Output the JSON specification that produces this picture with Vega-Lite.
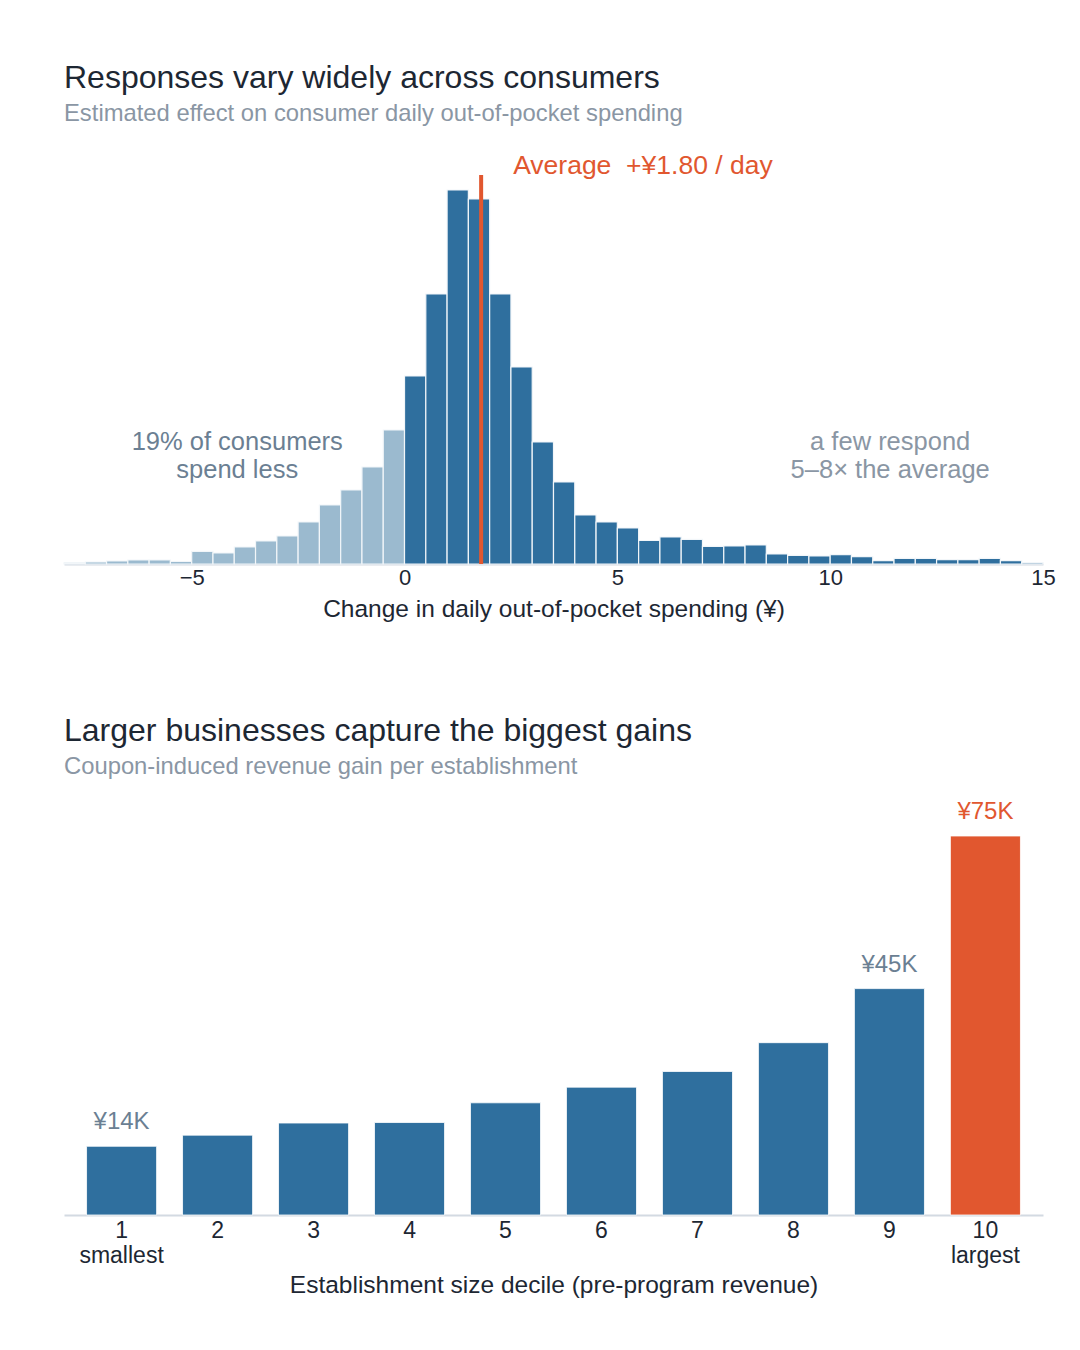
{
  "$schema": "https://vega.github.io/schema/vega-lite/v6.json",
  "background": "#ffffff",
  "padding": {"left": 63, "top": 62, "right": 20, "bottom": 20},
  "spacing": 94,
  "config": {
    "font": "Liberation Sans",
    "view": {"stroke": null},
    "title": {
      "anchor": "start", "frame": "group", "fontSize": 32, "fontWeight": "normal",
      "color": "#1d2733", "subtitleFontSize": 23.8, "subtitleColor": "#8a96a4",
      "subtitlePadding": 7
    },
    "axis": {
      "domainColor": "#d3dae2", "domainWidth": 2, "ticks": false, "tickSize": 0, "grid": false,
      "labelFontSize": 22, "labelColor": "#1d2733", "labelFlush": false,
      "titleFontSize": 24.5, "titleFontWeight": "normal", "titleColor": "#1d2733"
    }
  },
  "vconcat": [
    {
      "width": 979,
      "height": 430,
      "title": {
        "text": "Responses vary widely across consumers",
        "subtitle": "Estimated effect on consumer daily out-of-pocket spending",
        "offset": 7
      },
      "data": {
        "values": [
          {"start": -8, "end": -7.5, "count": 12},
          {"start": -7.5, "end": -7, "count": 20},
          {"start": -7, "end": -6.5, "count": 30},
          {"start": -6.5, "end": -6, "count": 40},
          {"start": -6, "end": -5.5, "count": 40},
          {"start": -5.5, "end": -5, "count": 25},
          {"start": -5, "end": -4.5, "count": 127},
          {"start": -4.5, "end": -4, "count": 110},
          {"start": -4, "end": -3.5, "count": 170},
          {"start": -3.5, "end": -3, "count": 230},
          {"start": -3, "end": -2.5, "count": 280},
          {"start": -2.5, "end": -2, "count": 420},
          {"start": -2, "end": -1.5, "count": 590},
          {"start": -1.5, "end": -1, "count": 740},
          {"start": -1, "end": -0.5, "count": 970},
          {"start": -0.5, "end": 0, "count": 1340},
          {"start": 0, "end": 0.5, "count": 1880},
          {"start": 0.5, "end": 1, "count": 2700},
          {"start": 1, "end": 1.5, "count": 3740},
          {"start": 1.5, "end": 2, "count": 3650},
          {"start": 2, "end": 2.5, "count": 2700},
          {"start": 2.5, "end": 3, "count": 1970},
          {"start": 3, "end": 3.5, "count": 1220},
          {"start": 3.5, "end": 4, "count": 820},
          {"start": 4, "end": 4.5, "count": 490},
          {"start": 4.5, "end": 5, "count": 420},
          {"start": 5, "end": 5.5, "count": 360},
          {"start": 5.5, "end": 6, "count": 235},
          {"start": 6, "end": 6.5, "count": 270},
          {"start": 6.5, "end": 7, "count": 246},
          {"start": 7, "end": 7.5, "count": 176},
          {"start": 7.5, "end": 8, "count": 180},
          {"start": 8, "end": 8.5, "count": 190},
          {"start": 8.5, "end": 9, "count": 100},
          {"start": 9, "end": 9.5, "count": 87},
          {"start": 9.5, "end": 10, "count": 80},
          {"start": 10, "end": 10.5, "count": 93},
          {"start": 10.5, "end": 11, "count": 73},
          {"start": 11, "end": 11.5, "count": 33},
          {"start": 11.5, "end": 12, "count": 57},
          {"start": 12, "end": 12.5, "count": 57},
          {"start": 12.5, "end": 13, "count": 43},
          {"start": 13, "end": 13.5, "count": 43},
          {"start": 13.5, "end": 14, "count": 57},
          {"start": 14, "end": 14.5, "count": 33},
          {"start": 14.5, "end": 15, "count": 13}
        ]
      },
      "layer": [
        {
          "mark": {"type": "bar", "stroke": "#f2f6f9", "strokeWidth": 1.2},
          "encoding": {
            "x": {
              "field": "start", "type": "quantitative",
              "scale": {"domain": [-8, 15], "nice": false, "zero": false},
              "axis": {
                "values": [-5, 0, 5, 10, 15], "labelPadding": 3, "titlePadding": 9,
                "title": "Change in daily out-of-pocket spending (¥)"
              }
            },
            "x2": {"field": "end"},
            "y": {
              "field": "count", "type": "quantitative",
              "scale": {"domain": [0, 4300], "nice": false}, "axis": null
            },
            "y2": {"datum": 0},
            "color": {
              "condition": {"test": "datum.start < 0", "value": "#9bbacf"},
              "value": "#2f6f9e"
            }
          }
        },
        {
          "data": {"values": [{"avg": 1.8}]},
          "mark": {"type": "rule", "color": "#e1572f", "strokeWidth": 4},
          "encoding": {
            "x": {"field": "avg", "type": "quantitative"},
            "y": {"datum": 3890},
            "y2": {"datum": 0}
          }
        },
        {
          "data": {"values": [{"avg": 1.8}]},
          "mark": {
            "type": "text", "align": "left", "baseline": "middle", "dx": 32,
            "fontSize": 26.5, "color": "#e1572f", "text": "Average\u00a0\u00a0+¥1.80 / day"
          },
          "encoding": {
            "x": {"field": "avg", "type": "quantitative"},
            "y": {"datum": 3980}
          }
        },
        {
          "data": {"values": [{}]},
          "mark": {
            "type": "text", "align": "center", "baseline": "middle", "fontSize": 25.5,
            "lineHeight": 28, "color": "#6b7f93",
            "text": ["19% of consumers", "spend less"]
          },
          "encoding": {"x": {"datum": -3.93}, "y": {"datum": 1220}}
        },
        {
          "data": {"values": [{}]},
          "mark": {
            "type": "text", "align": "center", "baseline": "middle", "fontSize": 25.5,
            "lineHeight": 28, "color": "#8a96a4",
            "text": ["a few respond", "5–8× the average"]
          },
          "encoding": {"x": {"datum": 11.41}, "y": {"datum": 1220}}
        }
      ]
    },
    {
      "width": 979,
      "height": 425,
      "title": {
        "text": "Larger businesses capture the biggest gains",
        "subtitle": "Coupon-induced revenue gain per establishment",
        "offset": 10
      },
      "data": {
        "values": [
          {"decile": 1, "gain": 13.6, "label": "¥14K"},
          {"decile": 2, "gain": 15.8, "label": ""},
          {"decile": 3, "gain": 18.2, "label": ""},
          {"decile": 4, "gain": 18.3, "label": ""},
          {"decile": 5, "gain": 22.2, "label": ""},
          {"decile": 6, "gain": 25.3, "label": ""},
          {"decile": 7, "gain": 28.4, "label": ""},
          {"decile": 8, "gain": 34.1, "label": ""},
          {"decile": 9, "gain": 44.8, "label": "¥45K"},
          {"decile": 10, "gain": 75.0, "label": "¥75K"}
        ]
      },
      "encoding": {
        "x": {
          "field": "decile", "type": "ordinal",
          "scale": {"paddingInner": 0.27, "paddingOuter": 0.235},
          "axis": {
            "labelAngle": 0, "labelPadding": 4, "labelLineHeight": 25, "titlePadding": 6,
            "labelFontSize": 23,
            "labelExpr": "datum.value == 1 ? ['1', 'smallest'] : datum.value == 10 ? ['10', 'largest'] : datum.label",
            "title": "Establishment size decile (pre-program revenue)"
          }
        },
        "y": {
          "field": "gain", "type": "quantitative",
          "scale": {"domain": [0, 84.1], "nice": false}, "axis": null
        }
      },
      "layer": [
        {
          "mark": {"type": "bar", "stroke": "#ffffff", "strokeWidth": 0.8},
          "encoding": {
            "color": {
              "condition": {"test": "datum.decile == 10", "value": "#e1572f"},
              "value": "#2f6f9e"
            }
          }
        },
        {
          "transform": [{"filter": "datum.label != ''"}],
          "mark": {"type": "text", "baseline": "bottom", "dy": -12, "fontSize": 24},
          "encoding": {
            "text": {"field": "label"},
            "color": {
              "condition": {"test": "datum.decile == 10", "value": "#e1572f"},
              "value": "#6b7f93"
            }
          }
        },
        {
          "data": {"values": [{}]},
          "mark": {
            "type": "text", "align": "right", "baseline": "middle", "dx": 32,
            "fontSize": 26, "lineHeight": 29, "color": "#e1572f",
            "text": ["Largest establishments", "capture ~5× the smallest"]
          },
          "encoding": {"x": {"datum": 9}, "y": {"datum": 66.3}}
        }
      ]
    }
  ]
}
